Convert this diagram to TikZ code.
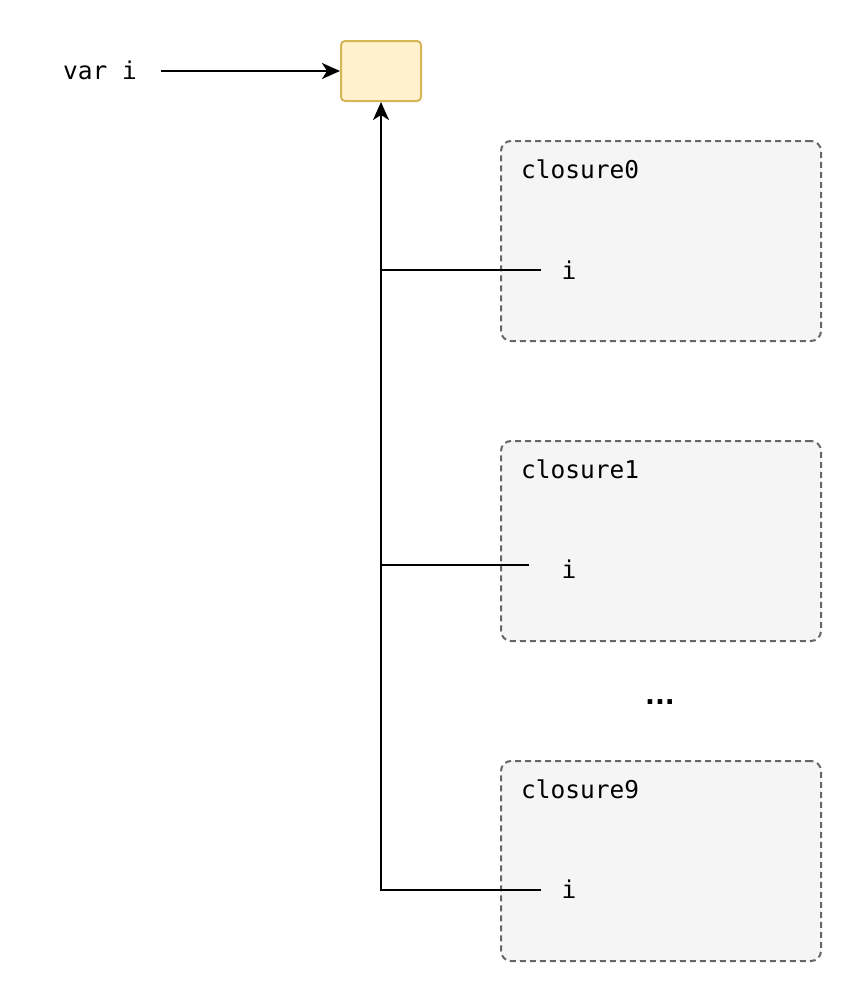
\documentclass[tikz,border=0pt]{standalone}
\usepackage{fontspec}
\setmonofont{DejaVu Sans Mono}
\newfontfamily\dotsfont{DejaVu Sans}
\usetikzlibrary{arrows.meta}
\definecolor{boxfill}{HTML}{FFF2CC}
\definecolor{boxline}{HTML}{D6B656}
\definecolor{clfill}{HTML}{F5F5F5}
\definecolor{clline}{HTML}{666666}
\tikzset{
  every node/.style={font=\ttfamily\fontsize{24.5}{28}\selectfont, inner sep=0pt},
  varbox/.style={draw=boxline, fill=boxfill, line width=2pt, rounded corners=4pt, minimum width=80pt, minimum height=60pt},
  closurebox/.style={draw=clline, fill=clfill, line width=2pt, dash pattern=on 6pt off 4pt, rounded corners=10pt, minimum width=320pt, minimum height=200pt},
  label/.style={anchor=west},
  conn/.style={line width=2pt, black},
  arr/.style={conn, -{Stealth[length=18pt,width=16pt,inset=5pt]}}
}
\begin{document}
\begin{tikzpicture}[x=1pt,y=-1pt]
\useasboundingbox (0,0) rectangle (862,1002);
% variable box
\node[varbox] (var) at (381,71) {};
\node (vartext) at (100,70) {var i};
\coordinate (varstart) at (161,71);
\draw[arr] (varstart) -- (var.west);
% closures
\node[closurebox] (c0) at (661,241) {};
\node[closurebox] (c1) at (661,541) {};
\node[closurebox] (c9) at (661,861) {};
\node[label] (c0t) at (521,169) {closure0};
\node[label] (c1t) at (521,469) {closure1};
\node[label] (c9t) at (521,789) {closure9};
\node (i0) at (569,270) {i};
\node (i1) at (569,569) {i};
\node (i9) at (569,889) {i};
\node[font=\dotsfont\bfseries\fontsize{26}{28}\selectfont, anchor=base] (dots) at (660,704) {...};
% connectors
\coordinate (e0) at (541,270);
\coordinate (e1) at (529,565);
\coordinate (e9) at (541,890);
\coordinate (j0) at (381,270);
\coordinate (j1) at (381,565);
\draw[arr] (e9) -| (var.south);
\draw[conn] (e0) -- (j0);
\draw[conn] (e1) -- (j1);
\end{tikzpicture}
\end{document}
